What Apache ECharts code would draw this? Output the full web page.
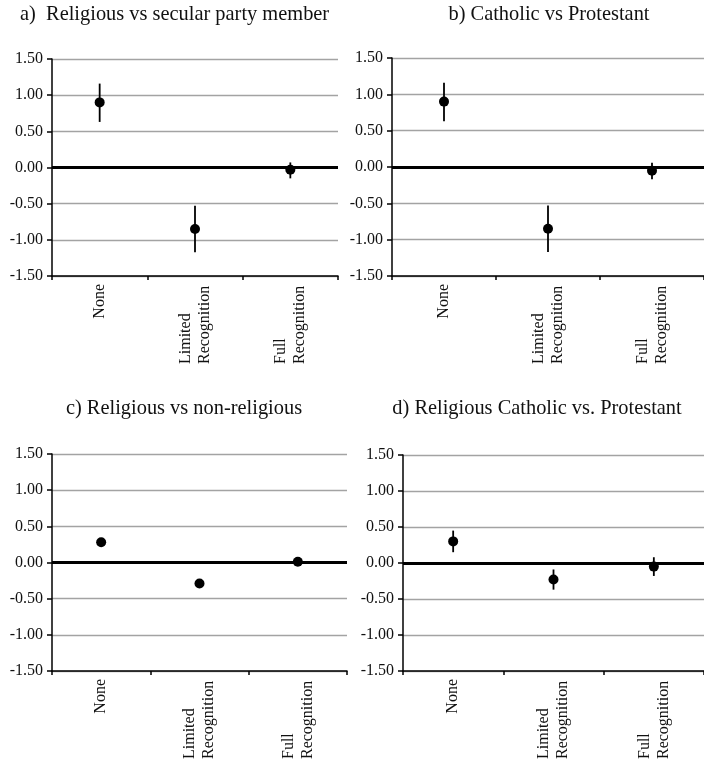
<!DOCTYPE html>
<html><head><meta charset="utf-8">
<script src="https://cdn.jsdelivr.net/npm/echarts@6/dist/echarts.min.js"></script>
<style>html,body{margin:0;padding:0;background:#fff}#c{width:704px;height:768px}</style>
</head><body><div id="c"></div>
<script>
// ---- data ----
const categories = ['None', 'Limited\nRecognition', 'Full\nRecognition'];
const yMin = -1.5, yMax = 1.5, yStep = 0.5;
const titles = ['a)  Religious vs secular party member', 'b) Catholic vs Protestant',
                'c) Religious vs non-religious', 'd) Religious Catholic vs. Protestant'];
const estA = [0.90, -0.85, -0.03], lowA = [0.63, -1.17, -0.15], highA = [1.16, -0.53, 0.07];
const estB = [0.90, -0.85, -0.05], lowB = [0.63, -1.17, -0.17], highB = [1.16, -0.53, 0.06];
const estC = [0.28, -0.29, 0.01],  lowC = [0.26, -0.31, -0.01], highC = [0.30, -0.27, 0.03];
const estD = [0.30, -0.23, -0.05], lowD = [0.15, -0.37, -0.18], highD = [0.45, -0.09, 0.08];

const panels = [[estA, lowA, highA], [estB, lowB, highB], [estC, lowC, highC], [estD, lowD, highD]];

// ---- layout ----
const FONT = '"Liberation Serif", "Times New Roman", serif';
const grids = [
  {left: 52, top: 59, width: 286, height: 217},
  {left: 392, top: 58, width: 318, height: 218},
  {left: 52, top: 454, width: 295, height: 217},
  {left: 403, top: 455, width: 303, height: 216}
];
const titlePos = [
  {left: 20, top: 5, align: 'left'},
  {left: 549, top: 5, align: 'center'},
  {left: 184, top: 399, align: 'center'},
  {left: 537, top: 399, align: 'center'}
];

const option = {
  animation: false,
  backgroundColor: '#fff',
  textStyle: {fontFamily: FONT},
  title: titles.map((t, i) => ({
    text: t, left: titlePos[i].left, top: titlePos[i].top, textAlign: titlePos[i].align,
    padding: 0,
    textStyle: {fontFamily: FONT, fontSize: 20.4, fontWeight: 'normal', color: '#111'}
  })),
  grid: grids.map(g => Object.assign({containLabel: false}, g)),
  xAxis: grids.map((g, i) => ({
    type: 'category', gridIndex: i, data: categories,
    axisLine: {onZero: false, lineStyle: {color: '#000', width: 1.5}},
    axisTick: {show: true, length: 4, interval: 0, lineStyle: {color: '#000', width: 1.5}},
    splitLine: {show: false},
    axisLabel: {
      interval: 0, rotate: 90, margin: 8, fontFamily: FONT, fontSize: 16,
      formatter: v => v.indexOf('\n') >= 0 ? v.split('\n').map(s => '{w|' + s + '}').join('\n') : '{n|' + v + '}',
      rich: {
        w: {fontFamily: FONT, fontSize: 16, color: '#111', width: 80, align: 'left', lineHeight: 19},
        n: {fontFamily: FONT, fontSize: 16, color: '#111', lineHeight: 19}
      }
    }
  })),
  yAxis: grids.map((g, i) => ({
    type: 'value', gridIndex: i, min: yMin, max: yMax, interval: yStep,
    axisLine: {show: true, lineStyle: {color: '#000', width: 1.5}},
    axisTick: {show: true, length: 5, lineStyle: {color: '#000', width: 1.5}},
    splitLine: {show: true, lineStyle: {color: '#a3a3a3', width: 1.3}},
    axisLabel: {formatter: v => v.toFixed(2), fontFamily: FONT, fontSize: 16, color: '#111', margin: 9}
  })),
  series: []
};

panels.forEach((p, i) => {
  const [est, low, high] = p;
  option.series.push({
    type: 'custom', xAxisIndex: i, yAxisIndex: i, z: 2,
    data: categories.map((c, k) => [k, low[k], high[k]]),
    encode: {x: 0, y: [1, 2]},
    renderItem: (params, api) => {
      const x = api.value(0);
      const a = api.coord([x, api.value(1)]);
      const b = api.coord([x, api.value(2)]);
      return {type: 'line', shape: {x1: a[0], y1: a[1], x2: b[0], y2: b[1]},
              style: {stroke: '#000', lineWidth: 1.8}};
    },
    markLine: {
      silent: true, symbol: ['none', 'none'], label: {show: false},
      lineStyle: {color: '#000', width: 3, type: 'solid', opacity: 1},
      data: [{yAxis: 0}]
    }
  });
  option.series.push({
    type: 'scatter', xAxisIndex: i, yAxisIndex: i, z: 3,
    symbol: 'circle', symbolSize: 10,
    itemStyle: {color: '#000', opacity: 1},
    data: categories.map((c, k) => [k, est[k]])
  });
});

const chart = echarts.init(document.getElementById('c'), null, {renderer: 'canvas'});
chart.setOption(option);
</script>
</body></html>
